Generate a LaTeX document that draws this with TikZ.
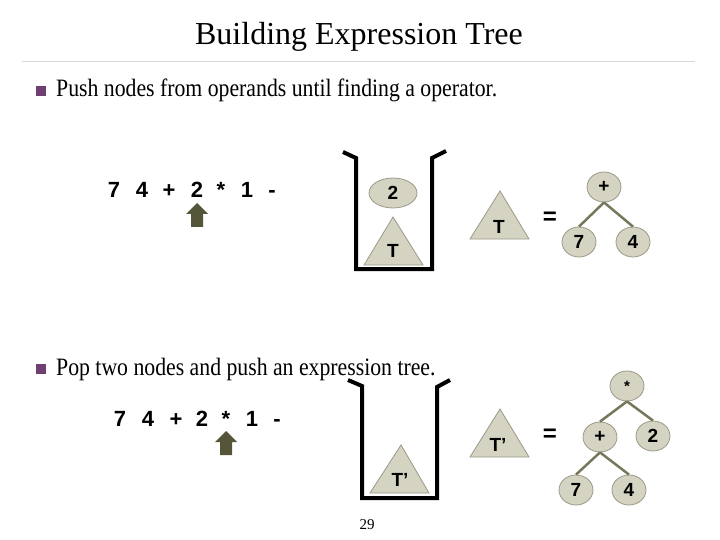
\documentclass[tikz,border=0pt]{standalone}
\usepackage{fontspec}
\setmainfont{Liberation Serif}
\setsansfont{Liberation Sans}
\newfontfamily\narrowserif{Liberation Serif}[FakeStretch=0.87]
\usetikzlibrary{shapes.geometric}

\definecolor{nodefill}{HTML}{D5D3C1}
\definecolor{nodeline}{HTML}{9A9886}
\definecolor{edgecol}{HTML}{77775C}
\definecolor{arrowcol}{HTML}{55553A}
\definecolor{bulletcol}{HTML}{6E3F70}

\tikzset{
  treenode/.style={ellipse, draw=nodeline, fill=nodefill, line width=0.8pt,
    minimum width=34pt, minimum height=30pt, inner sep=0pt,
    font=\sffamily\bfseries\fontsize{19}{19}\selectfont},
  treeedge/.style={draw=edgecol, line width=2.5pt},
  tri/.style={draw=nodeline, fill=nodefill, line width=0.8pt},
  trilabel/.style={font=\sffamily\bfseries\fontsize{19}{19}\selectfont},
  wall/.style={line width=4pt, line join=miter},
  token/.style={anchor=base, inner sep=0pt, font=\sffamily\bfseries\fontsize{22}{22}\selectfont},
  eqsign/.style={font=\sffamily\bfseries\fontsize{24}{24}\selectfont},
  bullettext/.style={anchor=base west, inner sep=0pt, font=\narrowserif\fontsize{25}{25}\selectfont},
  pointer/.style={fill=arrowcol},
}

\begin{document}
\begin{tikzpicture}[x=1pt, y=-1pt]
  \useasboundingbox (0,0) rectangle (720,540);

  % Titulo
  \node[font=\fontsize{32}{32}\selectfont] (title) at (359,37) {Building Expression Tree};
  \draw[black!15, line width=1pt] (22,62) -- (695,62);

  % Primer paso
  \fill[bulletcol] (36,86) rectangle (46,96);
  \node[bullettext] (push) at (56,97) {Push nodes from operands until finding a operator.};

  \foreach \x/\s [count=\i] in {114/7,142/4,169/+,197/2,221/*,247/1,272/-}
    \node[token] (a\i) at (\x,198) {\s};
  \fill[pointer] (197,203) -- ++(11,11) -- ++(-5,0) -- ++(0,13) -- ++(-12,0)
    -- ++(0,-13) -- ++(-5,0) -- cycle;

  % Pila
  \draw[wall] (343,152) -- (356,158) -- (356,269) -- (432,269) -- (432,158) -- (446,151);
  \node[treenode, minimum width=48pt] (two) at (393,193) {2};
  \draw[tri] (393,217) -- (364,265) -- (423,265) -- cycle;
  \node[trilabel] (tin) at (393,251) {T};

  % T = arbol
  \draw[tri] (500,191) -- (470,239) -- (529,239) -- cycle;
  \node[trilabel] (tout) at (499,227) {T};
  \node[eqsign] (eqa) at (550,218) {=};
  \node[treenode] (plus) at (604,187) {+};
  \node[treenode] (seven) at (579,242) {7};
  \node[treenode] (four) at (633,242) {4};
  \draw[treeedge] (plus.south) -- (seven.north);
  \draw[treeedge] (plus.south) -- (four.north);

  % Segundo paso
  \fill[bulletcol] (36,364) rectangle (46,374);
  \node[bullettext] (pop) at (56,375) {Pop two nodes and push an expression tree.};

  \foreach \x/\s [count=\i] in {120/7,148/4,176/+,202/2,226/*,252/1,277/-}
    \node[token] (b\i) at (\x,426) {\s};
  \fill[pointer] (226,431) -- ++(11,11) -- ++(-5,0) -- ++(0,13) -- ++(-12,0)
    -- ++(0,-13) -- ++(-5,0) -- cycle;

  % Pila
  \draw[wall] (348,380) -- (362,386) -- (362,498) -- (437,498) -- (437,387) -- (450,380);
  \draw[tri] (401,445) -- (370,493) -- (429,493) -- cycle;
  \node[trilabel] (tpin) at (400,480) {T’};

  % T' = arbol
  \draw[tri] (500,409) -- (470,457) -- (529,457) -- cycle;
  \node[trilabel] (tpout) at (498,445) {T’};
  \node[eqsign] (eqb) at (550,435) {=};
  \node[treenode, font=\sffamily\bfseries\fontsize{15}{15}\selectfont] (star) at (627,386) {*};
  \node[treenode] (plusb) at (600,437) {+};
  \node[treenode] (twob) at (653,436) {2};
  \node[treenode] (sevenb) at (576,490) {7};
  \node[treenode] (fourb) at (629,490) {4};
  \draw[treeedge] (star.south) -- (plusb.north);
  \draw[treeedge] (star.south) -- (twob.north);
  \draw[treeedge] (plusb.south) -- (sevenb.north);
  \draw[treeedge] (plusb.south) -- (fourb.north);

  \node[font=\fontsize{15}{15}\selectfont] (page) at (367,525) {29};
\end{tikzpicture}
\end{document}
